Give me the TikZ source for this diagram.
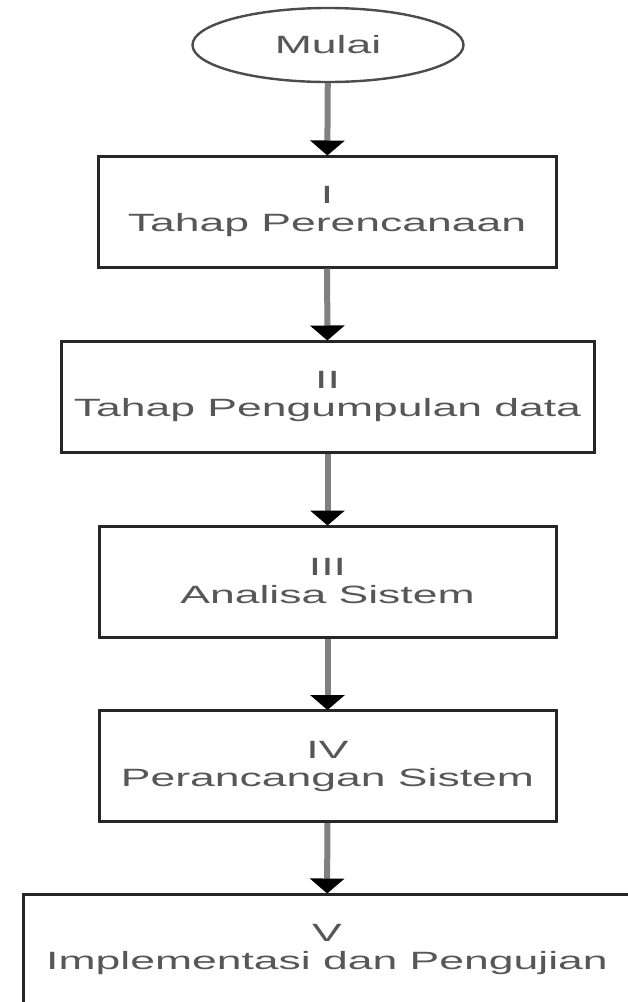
\documentclass[tikz,border=0pt]{standalone}
\usepackage{fontspec}
\setmainfont{Liberation Sans}[FakeStretch=1.78]
\usetikzlibrary{arrows.meta, shapes.geometric}

\begin{document}
\begin{tikzpicture}[x=1pt, y=-1pt,
  every node/.style={font=\fontsize{25}{28}\selectfont, text=black!66, align=center},
  stepbox/.style={draw=black!85, line width=3pt, inner sep=0pt, minimum height=111pt},
  startnode/.style={draw=black!70, line width=2.4pt, ellipse, inner sep=0pt, minimum width=271pt, minimum height=74pt},
  flow/.style={draw=black!50, line width=6pt, -{Triangle[width=34pt, length=15pt, color=black]}, shorten >=-1pt}]
\clip (0, 0) rectangle (628, 1002);
\fill[white] (0, 0) rectangle (628, 1002);

\node[startnode] (mulai) at (328, 45) {Mulai};

\node[stepbox, minimum width=458pt] (tahap1) at (327, 211.5) {I\\Tahap Perencanaan};
\node[stepbox, minimum width=533pt] (tahap2) at (327.5, 396.5) {II\\Tahap Pengumpulan data};
\node[stepbox, minimum width=457pt] (tahap3) at (327.5, 581.5) {III\\Analisa Sistem};
\node[stepbox, minimum width=457pt] (tahap4) at (327.5, 766) {IV\\Perancangan Sistem};
\node[stepbox, minimum width=608pt] (tahap5) at (327, 949.5) {V\\Implementasi dan Pengujian};

\draw[flow] (mulai) -- (tahap1);
\draw[flow] (tahap1) -- (tahap2);
\draw[flow] (tahap2) -- (tahap3);
\draw[flow] (tahap3) -- (tahap4);
\draw[flow] (tahap4) -- (tahap5);

\end{tikzpicture}
\end{document}
